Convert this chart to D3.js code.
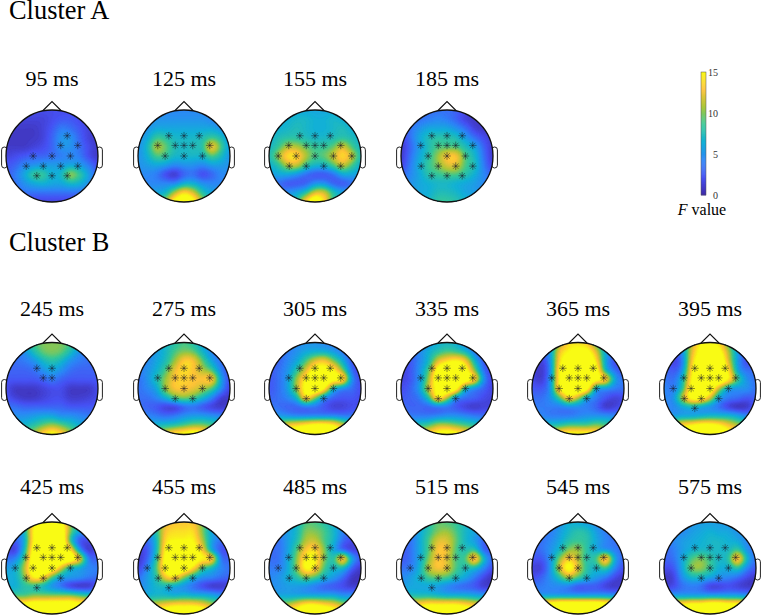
<!DOCTYPE html>
<html><head><meta charset="utf-8">
<script src="https://cdn.jsdelivr.net/npm/d3@7/dist/d3.min.js"></script>
<style>html,body{margin:0;padding:0;background:#fff}svg{display:block}text{font-family:"Liberation Serif",serif;fill:#000}</style>
</head><body><div id="chart"></div>
<script>
const a18=[18,18,18,18,18,18,18,18,18,18,18];
const f95=[[2,2,2,2,2,2,2,2,2,2,2],[1.5,1.5,1.5,1.5,1.5,2,2.5,2.5,2,1.5,1.5],[1,1,1,1,1.5,2.5,4,3.5,2.5,1.5,1],[1,1,1,1,1.5,3,5,5,3,1.5,1],[1,1,1,1.5,2,3,5,5,3.5,2,1],[1.5,2,2.5,3,3,3.5,4,4.5,4,2,1],[2.5,3,4.5,5,5.5,5.5,5.5,6,5.5,4,2],[2.5,4,6,8.5,8.5,6.5,7,10.5,8.5,5.5,3],[2.5,3.5,5,6,6.5,6,6,7,6.5,5,3.5],[2.5,3,3.5,3.5,3.5,3.5,3.5,3.5,3.5,3.5,3],[1.5,1.5,1.5,1.5,1.5,1.5,1.5,1.5,1.5,1.5,1.5]];
const f125=[[4.5,4.5,4.5,4.5,4.5,4.5,4.5,4.5,4.5,4.5,4.5],[4.5,4.5,5,5,5,5,5,5,4.5,4,3.5],[4.5,5,6,6,6,6,6,6,6,5,4],[5,6,8.5,8,7,7,7,7.5,8.5,7.5,5],[5,7,11,9.5,7.5,7,7.5,8,13,9,5.5],[5,6.5,9,8.5,7,7,7,7,9,7.5,5],[5,5.5,6,5.5,4.5,5,5,4.5,5.5,5.5,5],[4.5,4.5,4,2,1,3,3.5,2,3,4.5,4.5],[4.5,4.5,4.5,4.5,4.5,6.5,6.5,5,4.5,4.5,4.5],[5.5,5.5,6,7,11,14,12,8,6,5.5,5.5],[7,7,8,11,16,18,16,11,8,7,7]];
const f155=[[6,6,6,6,6,6,6,6,6,6,6],[6,6,6.5,7,7,6.5,6.5,7,6.5,6,5.5],[6,6.5,7,7.5,7,6.5,6.5,7,7.5,6.5,6],[6.5,7.5,8,8,7.5,7,7,7.5,8,7.5,6.5],[7,8.5,11,11,9.5,8.5,8.5,9.5,12,9,7],[7.5,10.5,14,14,11,9,9.5,11.5,14,11.5,7.5],[6.5,8,11,11.5,8.5,7,7,9,11.5,9,6.5],[5.5,6,6,5,3.5,2.5,2.5,3.5,6,6,5.5],[4,3.5,2.5,2.5,3,5,5,3,2.5,3.5,4],[4,4,5,6,8,12,12,8,6,5,5],[5,5,6,8,14,18,14,8,6,5,5]];
const f185=[[3.5,3.5,3.5,3.5,3.5,3.5,3,2,1.5,1.5,1.5],[2.5,3,3.5,4,4.5,4,3,1.5,1,1,1],[2,3.5,5,6,6,6,5,3.5,1.5,1,1],[1.5,3.5,6,7.5,8,8,7.5,5.5,3.5,2,1.2],[1,3,5.5,7.5,9,9,9,7.5,6,3,1],[1,3.5,6,8,10.5,13,13,9,7,3.5,1],[1.5,4,6.5,8.5,10,12,12,9,7.5,4,1.5],[3,4.5,6,8,8.5,9,9,8,6.5,4.5,3],[4,5,6,6.5,7,7,6.5,6,5.5,4.5,3.5],[4.5,5,6,6.5,7.5,7.5,7,6,5.5,4.5,4],[4.5,5,6,7,8.5,8.5,8,7,6,5,4.5]];
const f245=[[6,7,8,9,10,10,10,9,8,7,6],[3.5,4,5,7.5,9.5,10,9.5,7.5,5,4,3.5],[3,3.5,4,5,7,8,7,5,4,3.5,3],[3,3,3,3.5,5,6,5,3.5,3,3,3],[2.5,2.5,2.5,2.5,3,4,3,2.5,2.5,2.5,2.5],[2,1,1,1,1.5,2,2,1,1,1,2],[2.5,1.5,1,1,1.5,2,2,1.2,1.2,1.5,2],[3.5,3.5,3,3,3,3,3,2.5,2.5,2.5,2.5],[5,5,5,5.5,6,6,5,5,4.5,4,4],[6.5,6.5,7,8,9.5,10.5,9.5,8,6.5,6,6],[9,9,10,11,14,16,14,11,9,9,9]];
const f275=[[4,5,6,7,8,9,8,6,4.5,3.5,3],[4,4.5,5.5,7,9,10,9.5,7,4.5,3,2.5],[4,4.5,6,7.5,10.5,13.5,13,9.5,6,3.5,2.5],[4,5,6.5,9,12.5,14,13,11,9,4.5,2],[3.5,5,7.5,10.5,13,13.5,13,13,13.5,6,2],[3.5,4.5,6,10.5,13,13,12.5,11,9,5,1.5],[3.5,3.5,4.5,6.5,9,10,9,7,4.5,1.5,1],[3.5,3,2.5,1.5,1.5,3,3.5,2.5,1.5,1,1.5],[4.5,4.5,4,3.5,4,5,5.5,5.5,5,4.5,4],[6.5,6.5,7,7.5,8,9,10,10,9,8,7],[10,10,11,13,15,16,17,16,12,10,9]];
const f305=[[3,3.5,4,4.5,5,5,4.5,4,3.5,2.5,2],[2.5,3,4,5,6,6.5,6.5,5.5,4,2.5,2],[2.5,3,4.5,6,9,12,13,10,6.5,2.5,1.5],[2.5,3.5,5,8,12,16,16,15,10,3.5,1.5],[2.5,3.5,5.5,10.5,15,18,18,16,15,5,2],[2.5,3.5,5.5,10.5,16,18,15,7,4.5,3.5,2],[3,3.5,4.5,7,14,10,5,3,2.5,2.5,2],[4,3.5,3,3,3.5,3.5,2.5,1.5,1.5,2,2],[5.5,5.5,5,4.5,4.5,4.5,4.5,4.5,4,4,4.5],[9,11,13,14,15,16,16,15,12,9,8],[15,16,16,17,17,17,17,17,16,15,13]];
const f335=[[2.5,3,4,5,6.5,7,6.5,4.5,3,2,1.5],[2.5,3,4.5,6.5,8,9,8.5,7,4,2,1.5],[2,2.5,4.5,7,12,14,15,13,7,2.5,1],[1.5,2.5,5,9,16,18,18,16,10,3.5,1.5],[1.5,2.5,5,10.5,17,18,18,17,14,5,1.5],[2,3,5.5,11.5,16,18,16,7,4.5,3,1.5],[2.5,3,4,8,15,11,5,3.5,3,2,1.5],[3.5,3,3,3,3.5,3.5,2.5,1.5,1,1.5,1.5],[4.5,4,4,4,4.5,5,5,4.5,4,3.5,3.5],[6,7,8,9,11,11,10,9,8,7,6],[10,11,12,14,16,17,16,14,12,10,9]];
const f365=[[4,5,6.5,10,14,14,13,9,6,4.5,3.5],[3.5,3.5,5.5,13,15,16,16,12,6,3.5,2.5],[2.5,1.5,5,14,17,18,18,14,6,2,1.5],[2,1,4.5,15,18,18,18,16,7,3.5,2],[2,1.2,5,15,18,18,18,16,14,6,3.5],[2.5,2.5,5,15,17,18,16,6,5,4,3.5],[3.5,3.5,5,9,14,11,6,4,2.5,1.5,2],[4,4,4,4,4.5,4.5,4,3,1,1.5,2.5],[5,4.5,4,4,4,4.5,5,5,5,4.5,4],[7,7,7.5,8,9,9,9,10,9,8,7],[10,10,12,15,16,16,16,15,12,10,9]];
const f395=[[4.5,5,7,11,15,15,14,9,6,4.5,4],[4,3,5,12,16,18,16,11,5.5,2.5,2.5],[3.5,1.5,4,13,17,18,18,12,5.5,2,2],[3.5,2.5,5,14,18,18,18,14,6,3.5,3.5],[4,3.5,7,15,18,18,18,15,9,5,3.5],[4.5,4,8,16,18,17,11,6,5,5,3.5],[4.5,5,11,16,16,12,6,4,3.5,2.5,3],[4.5,4.5,6,7,6,5,3.5,1.5,0.6,1,3],[5.5,5.5,6,6,6.5,7,7,7,6,4.5,4.5],[10,12,14,15,16,16,15,13,11,10,9],[14,15,16,17,18,18,18,16,15,14,13]];
const f425=[[6,7,9,14,18,18,16,10,7,5.5,5],[5,5,7,15,18,18,17,10,6,4,3.5],[3.5,3,6,15,18,18,18,8,2.5,2,3],[2,1.5,7,16,18,18,18,14,5,1,2.5],[3.5,4.5,9,17,18,18,18,17,13,4,3],[5.5,6.5,11,17,18,17,12,7,6,4.5,4],[6.5,6.5,10,15,14,9,6,5.5,5,4,3.5],[6.5,6.5,8,8,7,5,3.5,1.5,0.8,1,2.5],[9,9,9,10,10,10,10,10,9,8,8],[16,16,16,17,17,17,17,17,16,16,16],a18];
const f455=[[5.5,6.5,9,12,13,13,13,10,7,5.5,5],[4.5,5,8,13,14,14,14,10,6,4.5,4],[3,3.5,7,14,15,15,15,11,6,3.5,3],[1.5,2.5,7,15,18,18,16,13,6,2.5,2],[1,3,8,16,18,18,17,15,14,4,3],[1.5,4.5,9,16,18,17,14,9,7,4.5,3.5],[3.5,5.5,8,13,14,10,7,5,4.5,3.5,3],[4.5,5.5,7,7,6,5,3.5,2,1,1,1.5],[5.5,6.5,7,7,6.5,7,6.5,6.5,6,5,5],[10,11,12,13,14,14,14,13,11,10,10],[16,16,16,18,18,18,18,18,16,16,16]];
const f485=[[4.5,4.5,5.5,7,9,9,8,6.5,5,4,3.5],[4,4,5.5,7,10,10,9,7,4.5,3,3],[3.5,3.5,5.5,7.5,11,11.5,9,7,3.5,2,2],[3.5,3.5,5.5,9,13,14,10,6,3,1.5,1.5],[3.5,3.5,6,10,15,15,10,8,14,6,2.5],[4,4,6,10,15.5,14,9,7,7,3,1],[4.5,5,6.5,8,10,9,7,5.5,3.5,1,0.6],[5,5,5.5,5.5,5,4,3,2.5,2,1.2,1.5],[6,6,6,6,6,6,6,6,5,5,5],[11,11,11,13,15,15,14,13,11,10,10],[16,16,16,17,18,18,18,17,16,16,16]];
const f515=[[4.5,5,6,8,9.5,9,8.5,7,5.5,4,3.5],[4,4,6,8,10,10.5,9,7,6,4,3],[3.5,3.5,6,9,12,12,9.5,7,5.5,3,2.5],[2.5,3.5,6,9,13,12.5,9,7.5,8,3,2.5],[2.5,3.5,6,10,13,12,9,9,14.5,7,3],[3.5,4,6.5,11,13,12,9,7.5,7,4.5,2],[4.5,5.5,7,9,9.5,9,7.5,6,4,2,0.6],[5.5,6,6,6,5.5,4.5,3.5,3,2.5,1.2,1.5],[7.5,7.5,7.5,7.5,7,6.5,6.5,6.5,6,5.5,5.5],[14,14,14,15,15,15,15,14,13,12,12],[17,17,17,18,18,18,18,18,17,17,17]];
const f545=[[4.5,4.5,4.5,5,6.5,6,5.5,4.5,4,3.5,3],[4,4,4,5.5,7,8,7.5,5.5,4,3,3],[3.5,3.5,4.5,6,8,8.5,8,6,4.5,3.5,3],[3,3.5,5,7,10,10.5,8,6,5,4,3],[2.5,2.5,5,10,13.5,11,8,9,14.5,6,3],[1.5,1.5,5,11.5,16,12,8,7,8.5,4.5,2],[2,3,5,8,11,9,7,5.5,4,2,1],[4,4,4.5,4.5,4,2.5,2.5,2.5,1.5,1,1.5],[5.5,5.5,5.5,5.5,5.5,5.5,5.5,5.5,5.5,5,5],[16,16,17,18,18,18,18,18,17,16,16],a18];
const f575=[[4.5,4.5,4.5,5,5.5,5.5,5.5,5,4,3.5,3.5],[4.5,4.5,4.5,5.5,6,6.5,6,6,5,4.5,3.5],[4,4.5,5.5,6,6.5,7,7,6.5,6,4.5,3.5],[3,4,5.5,6.5,7,7,7,7,8.5,5,3.5],[3,3.5,6,9,10,8.5,7,8,14,7,3.5],[2,2.5,6,10,10.5,8.5,6.5,6.5,8,4.5,2.5],[1,1.5,5,7,7,6,5,4.5,3.5,2,1],[1.5,2,3.5,4,3.5,1.5,1.5,2,1.5,1,1],[5.5,5.5,5.5,5.5,5.5,5.5,5.5,5.5,5.5,5,5],[15,15,15,16,16,17,17,16,16,15,15],a18];

const sensorNames=["F3","Fz","F4","FC5","FC1","FCz","FC2","FC6","T7","C3","Cz","C4","T8","CP5","CP1","CP2","CP6","P3","Pz","P4"];
const sensorU=[-.33,0,.33,-.57,-.19,0,.19,.56,-.8,-.41,0,.4,.8,-.56,-.19,.19,.56,-.33,0,.33];
const sensorV=[-.44,-.44,-.44,-.23,-.23,-.23,-.23,-.23,0,0,0,0,0,.22,.22,.22,.22,.43,.43,.43];

const clusterBase=["F3","Fz","F4","FC5","FC1","FCz","FC2","FC6","C3","Cz","C4"];
const s95=["F4","FC2","FC6","C3","Cz","C4","CP5","CP1","CP2","CP6","P3","Pz","P4"];
const s125=clusterBase;
const s155=[...clusterBase,"T7","T8","CP5","CP1","CP2","CP6"];
const s185=[...clusterBase,"CP5","CP1","CP2","CP6","P3","Pz","P4"];
const s245=["F3","Fz","FC1","FCz"];
const s275=[...clusterBase,"CP1","CP2"];
const s395=[...clusterBase,"T7","CP5","CP1","CP2","P3"];
const s485=[...clusterBase,"T7","CP5","CP1","CP2"];
const s515=[...s485,"P3"];

const rowA=[95,125,155,185];
const rowB=[245,275,305,335,365,395];
const rowC=[425,455,485,515,545,575];
const fields={95:f95,125:f125,155:f155,185:f185,245:f245,275:f275,305:f305,335:f335,365:f365,395:f395,425:f425,455:f455,485:f485,515:f515,545:f545,575:f575};
const sig={95:s95,125:s125,155:s155,185:s185,245:s245,275:s275,305:s275,335:s275,365:s275,395:s395,425:s395,455:s395,485:s485,515:s515,545:s275,575:s275};

const parulaStops=["#3e2aa8","#4752f4","#2d87f7","#12b1d6","#37c897","#abc739","#fec338","#f9fb14"];
const colorTicks=[0,5,10,15];

const W=762,H=616,R=46;
const svg=d3.select("#chart").append("svg").attr("width",W).attr("height",H);
const color=d3.scaleLinear().domain(parulaStops.map((c,i)=>15*i/(parulaStops.length-1))).range(parulaStops).clamp(true);

const colX=d3.scaleOrdinal().domain([0,1,2,3,4,5]).range([52,184,315,447,578,710]);
const rows=[{cy:156,base:86,list:rowA},{cy:388.5,base:316,list:rowB},{cy:568,base:494,list:rowC}];
const headScale=d3.scaleLinear().domain([-1,1]).range([-R,R]);

const N=93;
function cr(a,b,c,d,t){return .5*(2*b+(c-a)*t+(2*a-5*b+4*c-d)*t*t+(3*b-a-3*c+d)*t*t*t);}
function upsample(g){
  const out=new Float64Array(N*N),at=(i,j)=>g[Math.max(0,Math.min(10,i))][Math.max(0,Math.min(10,j))];
  for(let y=0;y<N;y++){
    const fy=(y/(N-1))*10,iy=Math.min(9,Math.floor(fy)),ty=fy-iy;
    for(let x=0;x<N;x++){const fx=(x/(N-1))*10,ix=Math.min(9,Math.floor(fx)),tx=fx-ix;
      const col=[-1,0,1,2].map(d=>cr(at(iy+d,ix-1),at(iy+d,ix),at(iy+d,ix+1),at(iy+d,ix+2),tx));
      out[y*N+x]=cr(col[0],col[1],col[2],col[3],ty);}}
  if(d3.blur2)d3.blur2({data:out,width:N,height:N},1.5);
  return out;
}
const levels=d3.range(0.2,15.01,0.2);
const contourGen=d3.contours().size([N,N]).smooth(true).thresholds(levels);
const gridPx=d3.scaleLinear().domain([0.5,N-0.5]).range([-R,R]);
const pathGen=d3.geoPath(d3.geoTransform({point(x,y){this.stream.point(gridPx(x),gridPx(y));}}));
const star=(()=>{const r=3.8,p=d3.path();for(let k=0;k<4;k++){const a=k*Math.PI/4,c=Math.cos(a)*r,s=Math.sin(a)*r;p.moveTo(-c,-s);p.lineTo(c,s);}return p.toString();})();

svg.append("defs").append("clipPath").attr("id","scalp").append("circle").attr("r",R);

function drawHead(ms,cx,cy,base){
  svg.append("text").attr("x",cx).attr("y",base).attr("text-anchor","middle").style("font-size","22px").text(ms+" ms");
  const g=svg.append("g").attr("transform",`translate(${cx},${cy})`);
  [-1,1].forEach(s=>{
    g.append("rect").attr("x",s<0?-R-4.4:R-1.2).attr("y",-9).attr("width",5.6).attr("height",21).attr("rx",2.8)
     .attr("fill","#fff").attr("stroke","#222").attr("stroke-width",1);
  });
  g.append("path").attr("d",d3.line()([[-9,-R+.5],[0,-R-8.5],[9,-R+.5]])).attr("fill","#fff").attr("stroke","#111").attr("stroke-width",1.1);
  const m=g.append("g").attr("clip-path","url(#scalp)");
  m.append("circle").attr("r",R).attr("fill",color(0));
  m.selectAll("path").data(contourGen(Array.from(upsample(fields[ms])))).join("path")
    .attr("d",pathGen).attr("fill",d=>color(d.value)).attr("stroke",d=>color(d.value)).attr("stroke-width",.3);
  g.append("circle").attr("r",R).attr("fill","none").attr("stroke","#111").attr("stroke-width",1.3);
  g.selectAll("path.sensor").data(sig[ms]).join("path").attr("class","sensor")
    .attr("transform",d=>{const i=sensorNames.indexOf(d);return `translate(${headScale(sensorU[i])},${headScale(sensorV[i])})`;})
    .attr("d",star).attr("fill","none").attr("stroke","#1a1a2a").attr("stroke-width",.6).attr("stroke-opacity",.85);
}
rows.forEach(r=>r.list.forEach((ms,i)=>drawHead(ms,colX(i),r.cy,r.base)));

svg.append("text").attr("x",9).attr("y",18.5).style("font-size","26.4px").text("Cluster A");
svg.append("text").attr("x",9).attr("y",250.5).style("font-size","26.4px").text("Cluster B");

const cbY=d3.scaleLinear().domain([0,15]).range([195,72]);
const cb=svg.append("g");
const cells=d3.range(0,15,0.125);
cb.selectAll("rect").data(cells).join("rect").attr("x",701).attr("width",5)
  .attr("y",d=>cbY(d+0.125)).attr("height",d=>cbY(d)-cbY(d+0.125)+.4).attr("fill",d=>color(d));
cb.append("rect").attr("x",701).attr("y",72).attr("width",5).attr("height",123).attr("fill","none").attr("stroke","#555").attr("stroke-width",.5);
cb.selectAll("text").data(colorTicks).join("text").attr("x",718).attr("y",d=>cbY(d)+3.5).attr("text-anchor","end").style("font-size","10px").style("fill","#333").text(d=>d);
const lab=svg.append("text").attr("x",702).attr("y",215).attr("text-anchor","middle").style("font-size","16px");
lab.append("tspan").style("font-style","italic").text("F");
lab.append("tspan").text(" value");
</script></body></html>
